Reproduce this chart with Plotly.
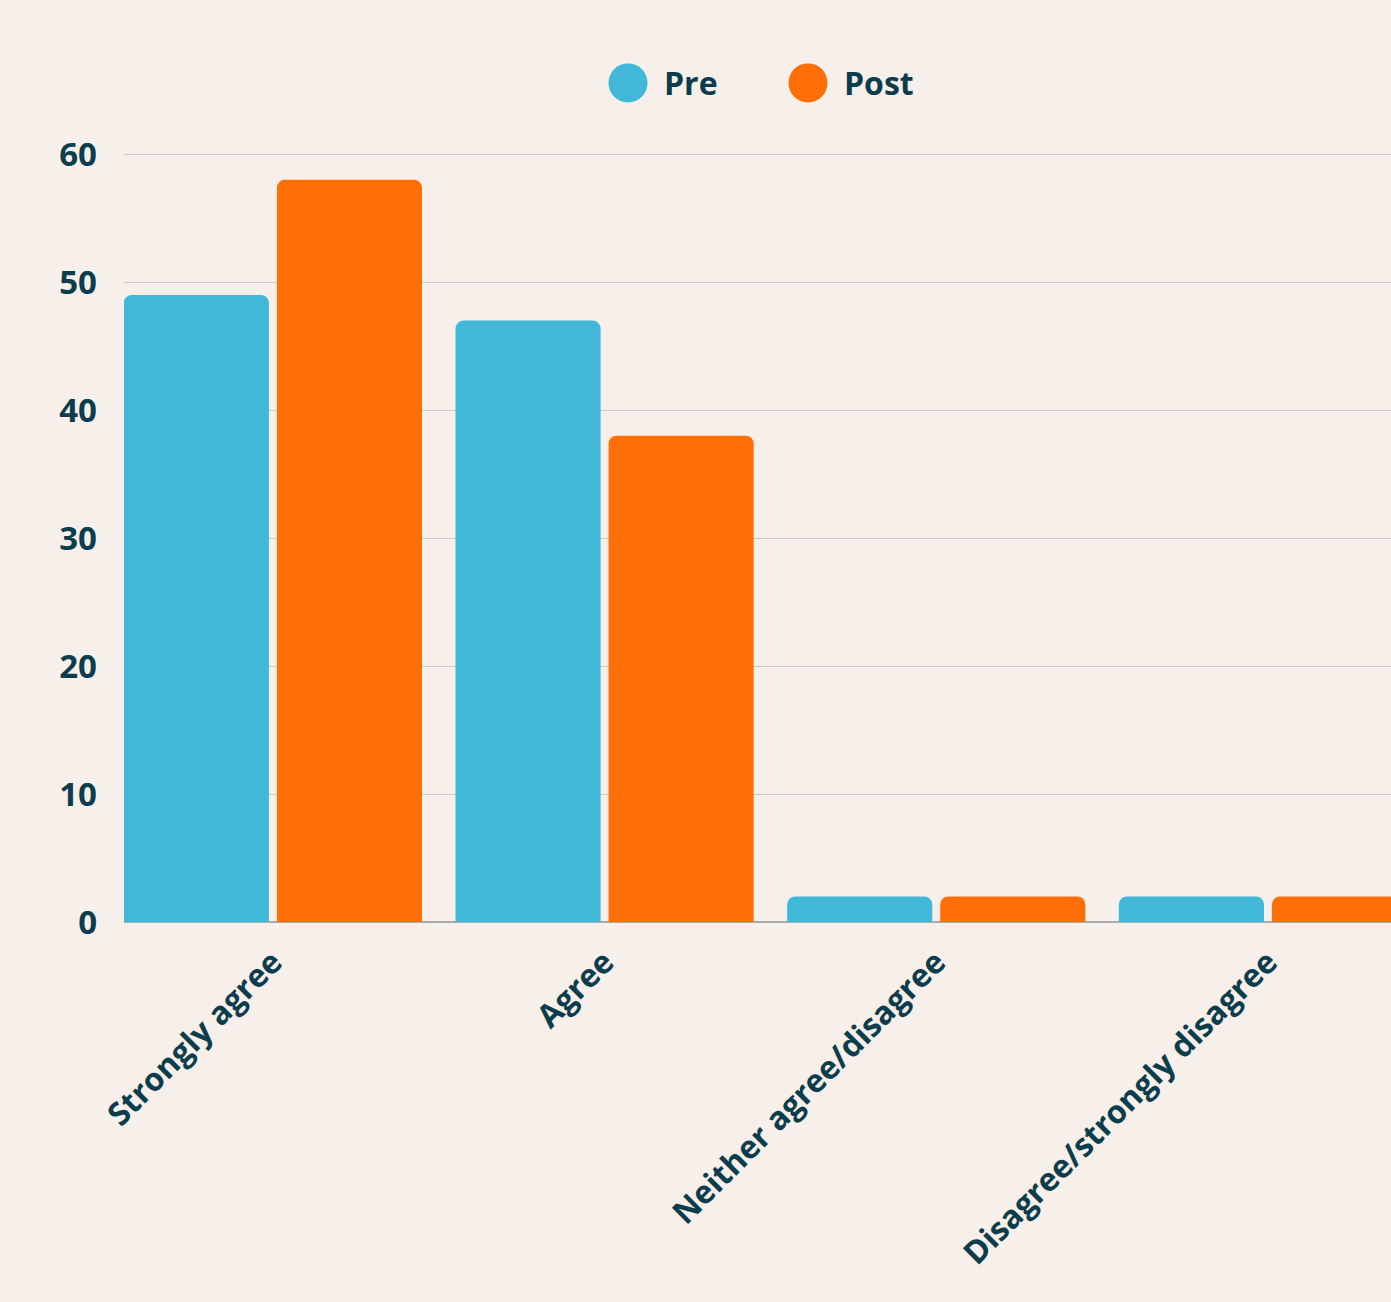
import plotly.graph_objects as go

categories = ["Strongly agree", "Agree", "Neither agree/disagree", "Disagree/strongly disagree"]
series_names = ["Pre", "Post"]
pre_values = [49, 47, 2, 2]
post_values = [58, 38, 2, 2]
y_ticks = [0, 10, 20, 30, 40, 50, 60]

colors = ["#42B8D8", "#FF6E07"]
text_color = "#0B3D4C"
bg = "#F7EFEA"
font_family = "Open Sans, Noto Sans, sans-serif"

fig = go.Figure()
for name, vals, col in zip(series_names, [pre_values, post_values], colors):
    fig.add_trace(go.Bar(x=categories, y=vals, name=name, marker=dict(color=col, line=dict(width=0)),
                         showlegend=False))

# custom legend with large circles
legend_x = [628, 808]
for i, (name, col) in enumerate(zip(series_names, colors)):
    r = 19.5
    fig.add_shape(type="circle", xref="paper", yref="paper",
                  x0=(legend_x[i] - 124 - r) / 1267, x1=(legend_x[i] - 124 + r) / 1267,
                  y0=(922 - 84 - r) / 768, y1=(922 - 84 + r) / 768,
                  fillcolor=col, line=dict(width=0))
    fig.add_annotation(xref="paper", yref="paper", x=(legend_x[i] - 124 + 34) / 1267,
                       y=(922 - 84) / 768, text=f"<b>{name}</b>", showarrow=False,
                       xanchor="left", yanchor="middle",
                       font=dict(size=32, color=text_color, family=font_family))

fig.update_layout(
    width=1391, height=1302,
    paper_bgcolor=bg, plot_bgcolor=bg,
    margin=dict(l=124, r=0, t=153, b=380),
    barmode="group", bargap=0.077, bargroupgap=0.052,
    barcornerradius=8,
    font=dict(family=font_family, color=text_color, size=30),
)
fig.update_xaxes(range=[-0.449, 3.371], tickangle=-45, showgrid=False,
                 tickfont=dict(size=32, color=text_color, family=font_family),
                 showline=False, zeroline=False, ticks="", ticklabelstandoff=14,
                 ticktext=[f"<b>{c}</b>" for c in categories], tickvals=categories)
fig.update_yaxes(range=[0, 60.1], tickvals=y_ticks, ticktext=[f"<b>{v}</b>" for v in y_ticks],
                 gridcolor="#CACAC6", gridwidth=1, zeroline=True, zerolinecolor="#AAAAAA",
                 zerolinewidth=1.5, ticklabelstandoff=26,
                 tickfont=dict(size=33, color=text_color, family=font_family))

fig.write_html("out.html")
